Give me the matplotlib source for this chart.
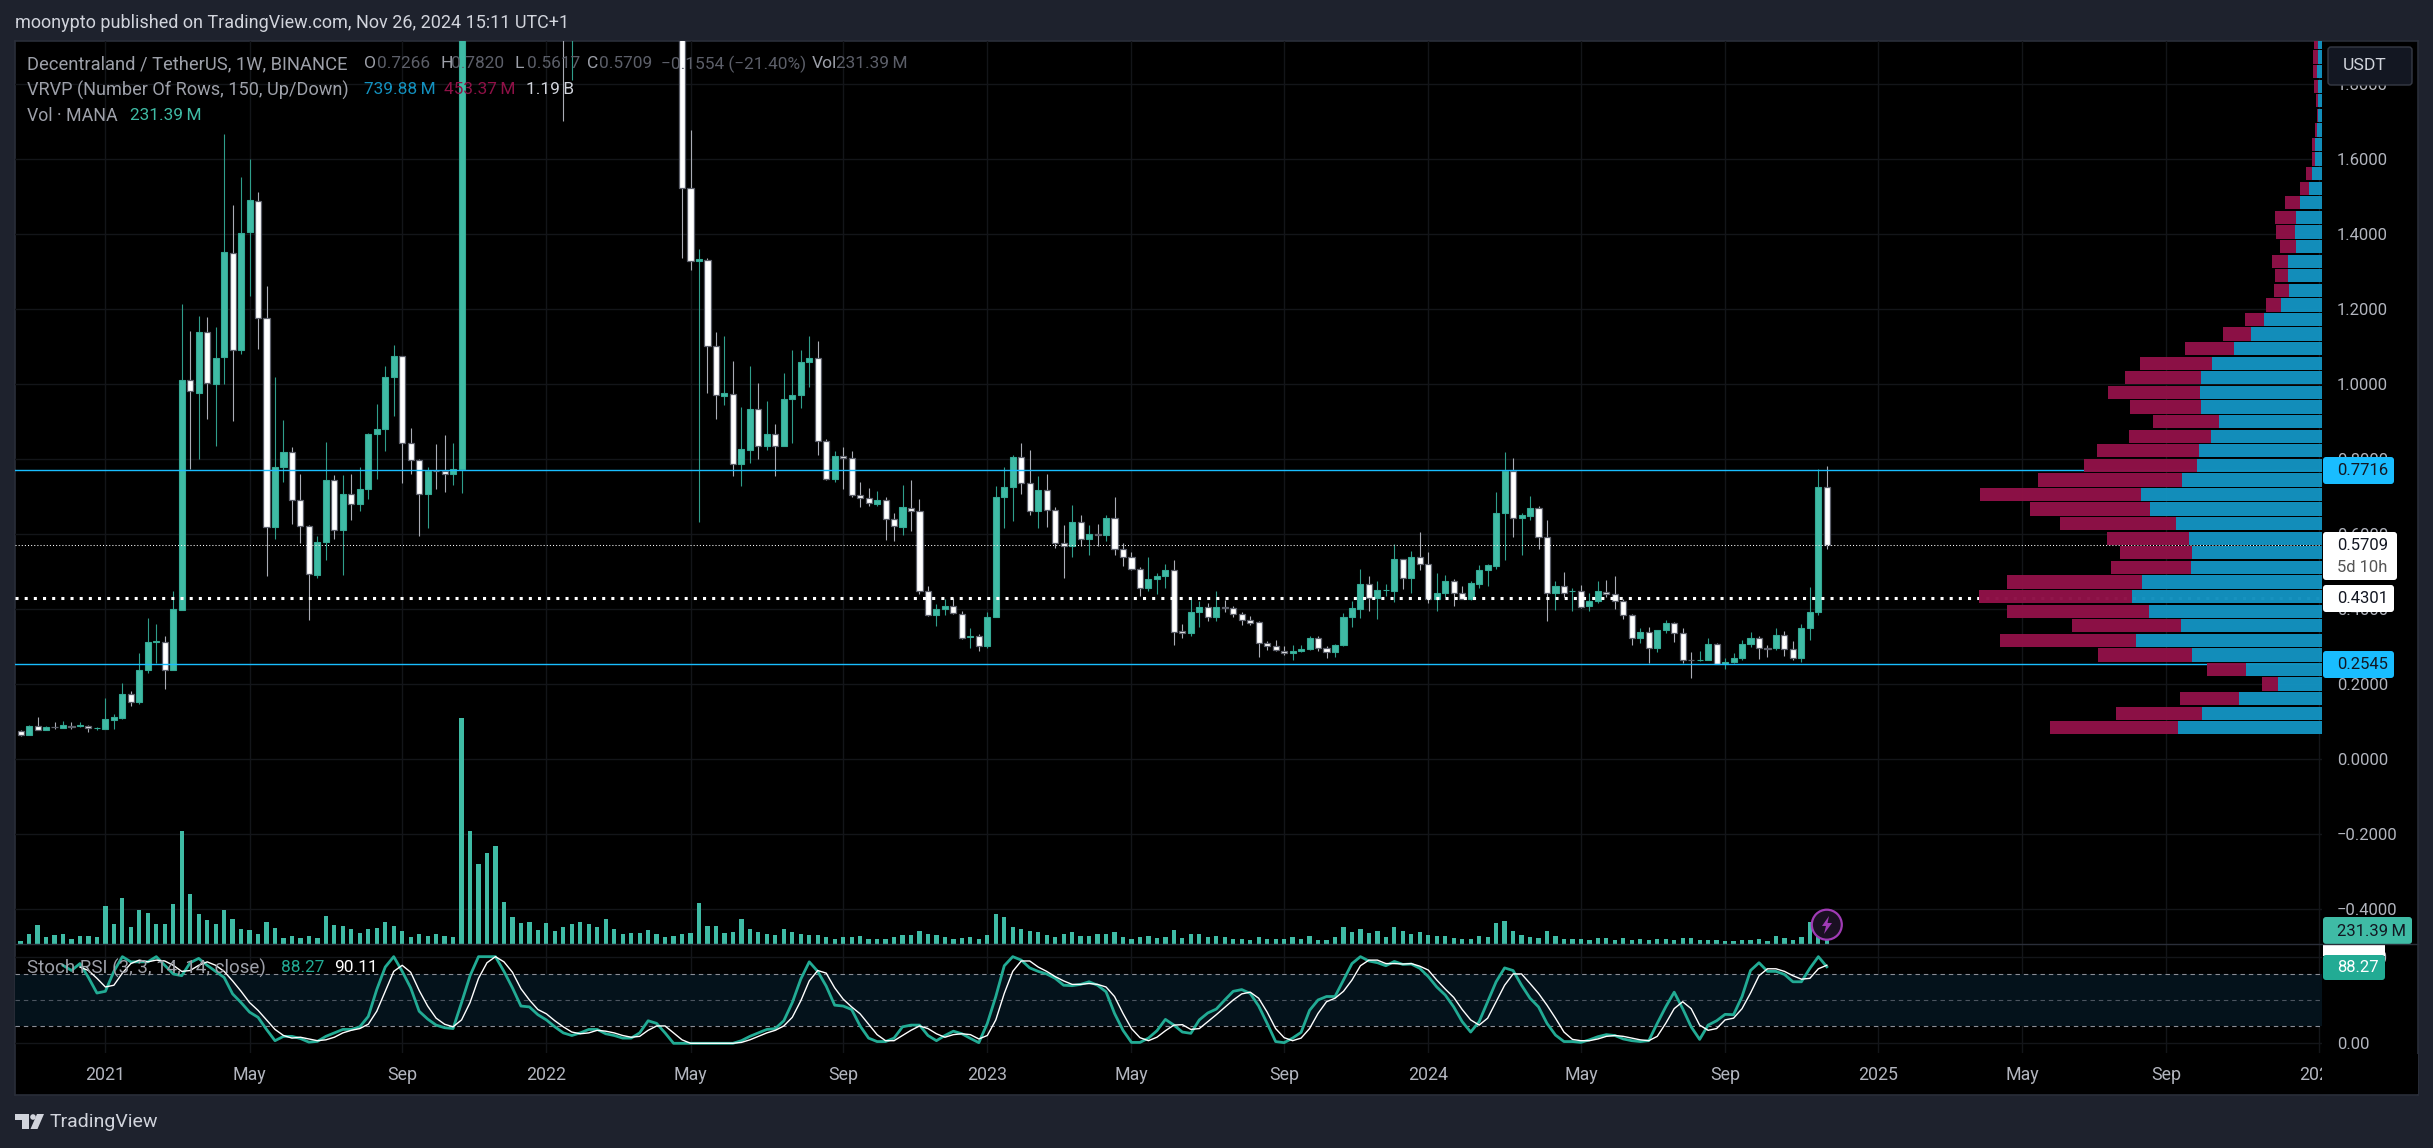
import numpy as np
import matplotlib
matplotlib.use("Agg")
import matplotlib.pyplot as plt
from matplotlib.patches import FancyBboxPatch, Rectangle, Polygon, Circle

nan = float("nan")

# ---------------- data ----------------
opens = [
 .075,.066,.088,.079,.086,.083,.088,.088,.090,.083,
 .081,.106,.111,.174,.154,.238,.314,.314,.238,.399,
 1.013,.978,1.141,1.002,1.072,1.350,1.093,1.406,1.488,1.178,
 .621,.780,.821,.693,.622,.493,.581,.744,.611,.709,
 .682,.720,.867,.882,1.021,1.077,.845,.798,.709,.769,
 .768,.762,.775,3.10,2.90,2.85,3.60,5.20,4.50,3.40,
 3.35,3.60,3.20,3.05,2.90,2.65,2.80,3.00,3.05,2.60,
 2.60,2.30,2.20,2.40,2.60,2.40,2.20,2.10,2.05,1.523,
 1.328,1.332,1.102,.970,.975,.789,.826,.935,.837,.869,
 .837,.962,.973,1.059,1.070,.850,.749,.808,.803,.704,
 .697,.682,.691,.640,.621,.670,.663,.448,.384,.401,
 .408,.389,.327,.328,.301,.379,.699,.726,.806,.736,
 .662,.718,.664,.576,.568,.632,.589,.600,.5995,.643,
 .560,.541,.509,.456,.480,.488,.504,.342,.336,.392,
 .406,.381,.406,.405,.389,.373,.366,.309,.301,.290,
 .283,.288,.294,.323,.296,.285,.306,.379,.402,.467,
 .430,.451,.450,.534,.483,.541,.520,.427,.445,.475,
 .445,.429,.469,.504,.517,.656,.768,.645,.650,.670,
 .594,.443,.462,.448,.448,.408,.422,.446,.440,.422,
 .384,.325,.339,.296,.344,.363,.336,.266,.264,.266,
 .307,.255,.259,.270,.307,.323,.296,.296,.331,.294,
 .270,.350,.392,.7266]
closes = [
 .064,.088,.079,.086,.085,.091,.087,.091,.083,.084,
 .108,.112,.174,.154,.238,.312,.315,.238,.400,1.013,
 .982,1.141,1.003,1.070,1.352,1.093,1.405,1.492,1.178,.619,
 .781,.821,.693,.622,.494,.581,.744,.611,.709,.682,
 .720,.867,.882,1.021,1.077,.845,.798,.709,.769,.768,
 .762,.775,3.10,2.90,2.85,3.60,5.20,4.50,3.40,3.35,
 3.60,3.20,3.05,2.90,2.65,2.80,3.00,3.05,2.60,2.60,
 2.30,2.20,2.40,2.60,2.40,2.20,2.10,2.05,1.523,1.329,
 1.335,1.102,.973,.976,.787,.827,.935,.837,.869,.837,
 .962,.973,1.059,1.070,.850,.749,.808,.803,.704,.697,
 .684,.691,.640,.622,.672,.663,.448,.384,.400,.409,
 .390,.325,.328,.301,.379,.699,.726,.806,.736,.662,
 .718,.664,.576,.569,.632,.589,.600,.5995,.643,.560,
 .541,.509,.456,.480,.489,.504,.341,.336,.392,.406,
 .381,.406,.405,.389,.373,.365,.310,.301,.291,.283,
 .288,.294,.323,.296,.285,.304,.379,.403,.467,.430,
 .451,.452,.534,.483,.539,.520,.427,.445,.475,.445,
 .429,.470,.504,.518,.656,.770,.645,.651,.670,.594,
 .443,.462,.445,.4485,.406,.422,.448,.440,.422,.384,
 .325,.339,.296,.344,.363,.336,.266,.264,.265,.307,
 .254,.259,.270,.307,.323,.296,.2955,.331,.294,.270,
 .350,.392,.7266,.5709]
highs = [
 .077,.091,.113,.088,.100,.102,.100,.100,.091,.086,
 .164,.120,.203,.182,.284,.376,.361,.329,.449,1.214,
 1.142,1.183,1.179,1.153,1.667,1.478,1.554,1.600,1.514,1.262,
 1.019,.904,.833,.762,.626,.597,.846,.758,.758,.761,
 .780,.870,.947,1.049,1.104,1.077,.883,.800,.781,.841,
 .865,.843,3.50,3.30,3.25,3.90,5.90,5.60,4.80,3.90,
 3.90,3.75,3.40,3.20,3.05,2.95,3.20,3.40,3.30,2.85,
 2.70,2.50,2.50,2.75,3.20,2.70,2.35,2.30,2.20,1.678,
 1.361,1.337,1.139,1.129,1.062,.939,1.048,1.005,.957,.895,
 1.030,1.093,1.091,1.129,1.116,.855,.823,.834,.823,.740,
 .724,.716,.700,.657,.732,.745,.695,.462,.414,.427,
 .430,.395,.350,.334,.392,.729,.779,.811,.843,.825,
 .756,.761,.674,.625,.679,.652,.625,.628,.652,.700,
 .576,.553,.512,.540,.496,.521,.532,.361,.433,.423,
 .417,.449,.424,.409,.393,.383,.369,.316,.319,.303,
 .305,.305,.329,.328,.301,.308,.391,.423,.508,.489,
 .476,.468,.574,.534,.555,.606,.553,.496,.492,.480,
 .463,.475,.518,.521,.713,.819,.803,.656,.703,.676,
 .639,.476,.500,.457,.465,.445,.476,.479,.489,.427,
 .388,.351,.353,.344,.371,.367,.351,.287,.289,.324,
 .311,.271,.283,.319,.341,.329,.305,.351,.343,.316,
 .361,.460,.775,.7820]
lows = [
 .062,.064,.077,.077,.080,.083,.080,.085,.072,.078,
 .081,.081,.108,.142,.148,.230,.257,.188,.238,.399,
 .774,.801,.908,.836,1.001,.902,1.081,1.236,1.095,.490,
 .588,.740,.628,.577,.372,.485,.533,.588,.493,.639,
 .663,.695,.748,.823,.917,.736,.762,.597,.617,.721,
 .714,.733,.711,2.50,2.50,2.75,3.30,4.00,3.10,2.80,
 3.10,3.05,2.95,2.70,1.703,1.812,2.60,2.80,2.50,2.30,
 2.20,1.95,2.10,2.30,2.35,2.10,2.00,1.98,1.337,1.305,
 .632,.978,.907,.944,.757,.729,.791,.800,.825,.757,
 .837,.845,.936,.992,.812,.746,.741,.721,.700,.673,
 .675,.675,.585,.583,.598,.609,.440,.382,.357,.384,
 .388,.322,.298,.288,.298,.379,.616,.637,.708,.653,
 .616,.621,.564,.485,.540,.570,.545,.568,.583,.545,
 .516,.505,.436,.449,.441,.457,.306,.324,.330,.354,
 .369,.369,.393,.380,.359,.359,.273,.292,.290,.279,
 .265,.287,.292,.290,.271,.273,.303,.352,.377,.396,
 .375,.436,.421,.455,.444,.504,.418,.396,.434,.408,
 .428,.425,.457,.463,.508,.532,.592,.545,.639,.561,
 .369,.399,.432,.397,.405,.397,.416,.432,.402,.375,
 .306,.309,.258,.285,.336,.312,.258,.218,.262,.264,
 .254,.241,.258,.264,.300,.268,.273,.292,.276,.264,
 .260,.319,.384,.5617]
volumes = [
 59,184,346,132,162,184,96,147,147,132,
 684,360,810,309,611,559,360,360,714,2017,
 898,537,434,360,611,449,272,257,184,383,
 287,110,147,110,147,110,500,346,324,272,
 199,272,287,397,324,235,132,184,147,184,
 147,132,4026,2017,1428,1619,1744,743,486,375,
 397,250,375,235,309,360,397,360,309,449,
 272,184,199,199,257,184,132,147,184,199,
 736,324,324,199,221,449,272,221,184,162,
 272,221,184,162,162,132,96,132,132,147,
 96,96,96,132,162,169,235,184,162,132,
 89,113,130,89,166,540,486,308,273,237,
 219,166,130,184,219,148,148,184,184,219,
 130,95,130,148,113,130,255,113,184,184,
 130,148,130,89,89,77,130,89,89,89,
 130,89,148,77,77,130,308,219,273,202,
 237,130,308,237,184,219,166,148,148,107,
 89,89,148,130,374,415,237,166,130,113,
 237,148,95,95,89,77,107,107,77,113,
 77,95,77,95,89,77,113,113,77,77,
 77,59,59,77,77,95,59,148,113,77,
 130,385,560,231.39]
stoch_k = [
 nan,nan,nan,nan,nan,90,84,92,76,58,
 60,83,100,94,94,94,100,90,80,78,
 93,98,90,83,76,57,47,36,30,16,
 3,8,8,5.5,1.3,2.2,8,12,16,16,
 19,31,62,88,100,83,64,37,28,21,
 18,17,47,78,100,100,100,83,64,43,
 42,33,27,19,12,9,12,16,16,11,
 9,6,6,12,26,23,12,0,0,0,
 0,0,0,0,0,3,8,12,16,17,
 26,47,74,94,83,66,44,43,39,20,
 6,2,2,6,19,21,21,9,3,9,
 14,11,5.7,.7,23,54,89.5,100,96,87,
 83,80,75,67,66.5,68,71,67,59.5,34.5,
 15,1,1,6,14.5,27.6,21,13,11.5,27,
 35,39.5,50,60,62,57.6,43,23,2,.7,
 6,12.6,38,50,54,54,73,92,100,95,
 93,89.5,94.5,91,91.5,86.5,77,65,55.7,42,
 25,13,25,48,71,87,84,67,52,42,
 23,9.5,2,2,1,4,7.6,10,9,5,
 3,2,3,23,42,59,40,19,4.5,21,
 26,33.4,33,54,84,93,83,83,79.5,71,
 71,86.5,100,88.27]
stoch_d = [
 nan,nan,nan,nan,nan,nan,nan,88,84,75,
 65,67,81,92,96,94,96,95,90,83,
 84,90,94,90,83,72,60,47,38,27,
 16,9,6,7,5,3,4,7,12,15,
 17,22,37,60,83,90,82,61,43,29,
 22,19,27,47,75,93,100,94,82,63,
 50,39,34,26,19,13,11,12,15,14,
 12,9,7,8,15,20,20,12,4,0,
 0,0,0,0,0,1,4,8,12,15,
 20,30,49,72,84,81,64,51,42,34,
 22,10,3,3,9,15,20,17,11,7,
 10,11,10,5,9,27,57.6,83,95,95,
 88,83,77,72,68,68,69,68,65,54,
 34.5,17,6.5,3,7,14.5,21,21.5,16,17,
 25,33,41.5,50,57,59,52,36,17,6.5,
 3,6,17,34.5,48,52,60,73,89.5,96,
 96,92,92,91.5,92,89,84.5,73,62.6,53,
 39,27,21,29,48,67,80,80,69,57.6,
 44,29,13,4.5,3,3,5,8,9,8,
 6,4,3,8,23,40,48,40,21,15,
 17,27,29,40,58,78,86,86,83,78,
 74,75,86,90.11]

# Volume profile rows, bottom row first, in percent of the widest row
vp_up = [42.0,35.0,24.2,12.8,22.2,37.9,54.2,41.1,50.4,55.4,52.5,38.2,37.9,38.8,42.6,50.1,
         52.8,40.8,36.4,35.9,32.4,30.0,35.3,35.6,35.3,32.1,25.7,20.7,16.9,12.0,9.6,9.9,
         9.9,7.6,7.9,7.6,6.4,3.8,2.9,2.0,2.0,1.5,1.2,1.2,1.2,1.5,1.2,1.2]
vp_down = [37.3,25.1,17.2,4.7,11.4,27.4,39.7,31.8,41.4,44.6,39.4,23.3,21.0,23.9,33.8,35.0,
           46.9,42.0,32.9,29.7,23.9,19.2,20.7,26.8,22.2,21.0,14.3,8.2,5.5,4.4,4.4,3.8,
           4.7,4.7,5.5,6.1,4.4,2.6,1.7,0.9,0.9,0.6,0.3,0.6,1.2,1.2,1.5,1.1]
vp_first_row = 0.0653
vp_row_height = 0.0389

time_ticks = [10,27,45,62,79,97,114,131,149,166,184,201,219,236,253,271]
time_labels = ["2021","May","Sep","2022","May","Sep","2023","May","Sep","2024",
               "May","Sep","2025","May","Sep","2026"]
price_ticks = [-0.4,-0.2,0.0,0.2,0.4,0.6,0.8,1.0,1.2,1.4,1.6,1.8]
level_lines = [0.7716, 0.2545]
mid_level = 0.4301
last_price = 0.5709
stoch_bands = [20, 50, 80]

assert all(len(a) == 214 for a in (opens, closes, highs, lows, volumes, stoch_k, stoch_d))
assert len(vp_up) == len(vp_down)

# ---------------- style ----------------
W, H = 2433, 1148
OUTER = "#1e222d"; BORDER = "#2a2e39"; GRID = "#131519"; TICK = "#b2b5be"
UP = "#3fbba5"; K_COL = "#22ab94"; CYAN = "#19bdff"; VP_UP = "#1391bf"; VP_DN = "#8f1147"
plt.rcParams["font.family"] = ["Roboto", "DejaVu Sans"]
plt.rcParams["axes.unicode_minus"] = True

fig = plt.figure(figsize=(W / 100, H / 100), dpi=100, facecolor=OUTER)

def px_ax(x0, y0, x1, y1, **kw):
    return fig.add_axes([x0 / W, 1 - y1 / H, (x1 - x0) / W, (y1 - y0) / H], **kw)

bg = px_ax(15, 41, 2418, 1095, facecolor="black", zorder=0)
bg.set_xticks([]); bg.set_yticks([])
for s in bg.spines.values():
    s.set_color(BORDER); s.set_linewidth(1.2)

IDX0, STEP = 20.6, 8.48
xlim = ((15 - IDX0) / STEP, (2322 - IDX0) / STEP)
ylim = (-0.4925, 1.916)

ax = px_ax(15, 41, 2322, 944, zorder=2)
ax.patch.set_visible(False)
ax.set_xlim(xlim); ax.set_ylim(ylim)
for s in ax.spines.values():
    s.set_visible(False)

x = np.arange(214)
o, c, h, l = map(np.array, (opens, closes, highs, lows))
up = c >= o
ax.vlines(x[up], l[up], h[up], color="#2f9e8b", lw=0.8, zorder=3)
ax.vlines(x[~up], l[~up], h[~up], color="#a9acb5", lw=0.8, zorder=3)
bot = np.minimum(o, c); hgt = np.abs(c - o)
ax.bar(x[up], hgt[up], bottom=bot[up], width=0.72, color=UP, edgecolor="#34a994", lw=0.8, zorder=4)
ax.bar(x[~up], hgt[~up], bottom=bot[~up], width=0.72, color="white", edgecolor="#5d606b", lw=0.9, zorder=4)

ax.set_xticks(time_ticks)
ax.tick_params(axis="x", length=0, labelbottom=False)
ax.grid(True, color=GRID, lw=1.0, zorder=1)
ax.set_axisbelow(True)

for lv in level_lines:
    ax.axhline(lv, color=CYAN, lw=1.0, zorder=5)
ax.axhline(last_price, color="white", lw=0.75, ls=(0, (1, 2)), dash_capstyle="butt", zorder=5)
ax.axhline(mid_level, color="white", lw=2.2, ls=(0, (1, 2)), dash_capstyle="butt", zorder=7)

# volume, on its own scale
ax_v = ax.twinx()
ax_v.set_ylim(0, 903 * 17.8)
ax_v.bar(x, volumes, width=0.5, color=UP, zorder=3)
ax_v.axis("off")

# volume profile, anchored to the right edge
ax_p = ax.twiny()
ax_p.set_xlim(2307 / 3.43, 0)
ax_p.axis("off")
ys = vp_first_row + vp_row_height * np.arange(len(vp_up)) + 0.0445 * 0.42
u = np.array(vp_up); d = np.array(vp_down)
ax_p.barh(ys, u, height=vp_row_height * 0.91, color=VP_UP, alpha=0.98, zorder=3)
ax_p.barh(ys, d, left=u, height=vp_row_height * 0.91, color=VP_DN, alpha=0.98, zorder=3)

ax.yaxis.tick_right()
ax.set_yticks(price_ticks, [f"{t:.4f}".replace("-", "\u2212") for t in price_ticks])
ax.tick_params(axis="y", length=0, pad=10.8, labelsize=12, labelcolor=TICK)

# stochastic pane
sx = px_ax(15, 944, 2322, 1053, zorder=2)
sx.patch.set_visible(False)
sx.set_xlim(xlim); sx.set_ylim(-11.2, 114.6)
for s in sx.spines.values():
    s.set_visible(False)
sx.axhspan(stoch_bands[0], stoch_bands[2], color="#04121b", lw=0, zorder=1)
for b, col in zip(stoch_bands, ["#8a8d96", "#4c5560", "#8a8d96"]):
    sx.axhline(b, color=col, lw=0.8, ls=(0, (4, 3.5)), zorder=2)
sx.plot(x, stoch_k, color=K_COL, lw=2.0, zorder=4, solid_joinstyle="round")
sx.plot(x, stoch_d, color="white", lw=1.0, zorder=5)
sx.set_xticks(time_ticks, time_labels)
sx.set_yticks([0, 100], ["0.00", "100.00"])
sx.yaxis.tick_right()
sx.tick_params(axis="y", length=0, pad=10.8, labelsize=12, labelcolor=TICK)
sx.tick_params(axis="x", length=0, pad=9.5, labelsize=12.8, labelcolor=TICK)
sx.grid(True, color=GRID, lw=1.0, zorder=0)
sx.set_axisbelow(True)

# overlay in figure pixels: legends, price tags, decoration
ov = px_ax(0, 0, W, H, zorder=10)
ov.set_xlim(0, W); ov.set_ylim(H, 0); ov.axis("off")

ov.plot([15, 2418], [944, 944], color=BORDER, lw=1.0)
ov.add_patch(Rectangle((2322, 1054), 96, 40, fc="black", ec="none"))

def txt(xp, yp, s, color, size=12, **kw):
    return ov.text(xp, yp, s, color=color, fontsize=size, va="center", ha=kw.pop("ha", "left"), **kw)

txt(15, 23, "moonypto published on TradingView.com, Nov 26, 2024 15:11 UTC+1", "#d1d4dc", 13)
LEG = "#9da0a9"; DIM = "#5c5f69"
txt(27, 64, "Decentraland / TetherUS, 1W, BINANCE", LEG, 13.2)
for xp, s in [(364, "O"), (440, "H"), (515, "L"), (587, "C"), (812, "Vol")]:
    txt(xp, 64, s, LEG, 12.6)
for xp, s in [(377, "0.7266"), (451.5, "0.7820"), (527, "0.5617"), (599, "0.5709"),
              (661, "\u22120.1554 (\u221221.40%)"), (836, "231.39\u2009M")]:
    txt(xp, 64, s, DIM, 12.4)
txt(27, 90, "VRVP (Number Of Rows, 150, Up/Down)", LEG, 13.1)
txt(364, 90, "739.88\u2009M", VP_UP, 12.4)
txt(444, 90, "453.37\u2009M", VP_DN, 12.4)
txt(526, 90, "1.19\u2009B", "#d1d4dc", 12.4)
txt(27, 116, "Vol \u00b7 MANA", LEG, 12.8)
txt(130, 116, "231.39\u2009M", UP, 12.4)
txt(27, 968, "Stoch RSI (3, 3, 14, 14, close)", LEG, 13.5)
txt(280.6, 968, "88.27", K_COL, 12.4)
txt(334.5, 968, "90.11", "white", 12.4)

def tag(x0, y0, x1, y1, fc, ec="none"):
    ov.add_patch(FancyBboxPatch((x0, y0), x1 - x0, y1 - y0, boxstyle="round,pad=0,rounding_size=3",
                                fc=fc, ec=ec, lw=1.0))

tag(2328, 47, 2412, 85, "#131722", "#363a45")
txt(2343, 65, "USDT", "#d1d4dc", 12.6)
DARK = "#131722"
tag(2323, 457, 2394, 484, CYAN); txt(2337, 470.5, "0.7716", DARK)
tag(2323, 532, 2397, 580, "white"); txt(2337, 545.5, "0.5709", DARK); txt(2337, 567, "5d 10h", "#555555")
tag(2323, 585, 2394, 612, "white"); txt(2337, 598.5, "0.4301", DARK)
tag(2323, 651, 2394, 678, CYAN); txt(2337, 664.5, "0.2545", DARK)
ov.add_patch(Rectangle((2323, 944), 62, 12, fc="white", ec="none"))
tag(2323, 917, 2412, 944, UP); txt(2337, 931, "231.39\u2009M", DARK)
tag(2323, 955, 2385, 980, K_COL); txt(2337, 967.5, "88.27", "white")

# alert icon
ov.add_patch(Circle((1826.8, 924.7), 15, fc="#1a1022", ec="#a03bb5", lw=1.6))
ov.add_patch(Polygon([(1829, 916), (1822, 926), (1826, 926), (1824, 934), (1832, 923), (1827.5, 923)],
                     closed=True, fc="#a03bb5", ec="none"))

# TradingView logo
LOGO = "#d1d4dc"
ov.add_patch(Polygon([(15, 1114), (29, 1114), (29, 1129), (22, 1129), (22, 1120), (15, 1120)], closed=True, fc=LOGO, ec="none"))
ov.add_patch(Circle((33, 1117), 2.8, fc=LOGO, ec="none"))
ov.add_patch(Polygon([(37, 1114), (44, 1114), (37.5, 1129), (30.5, 1129)], closed=True, fc=LOGO, ec="none"))
txt(50, 1122, "TradingView", "#d1d4dc", 14)

fig.savefig("out.png", dpi=100, facecolor=OUTER)
